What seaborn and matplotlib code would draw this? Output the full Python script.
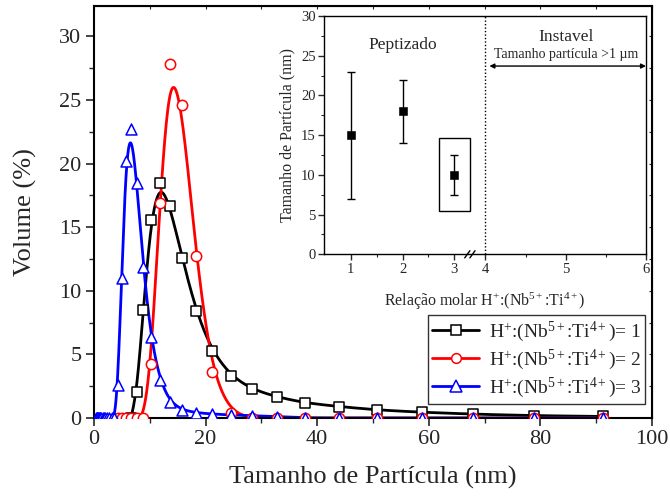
import numpy as np
import matplotlib
matplotlib.use("Agg")
import matplotlib.pyplot as plt
import matplotlib.patches as patches
from matplotlib.lines import Line2D
from matplotlib.ticker import MultipleLocator, FixedLocator
import seaborn as sns

# ---------------- data ----------------
size_nm = [0.41, 0.47, 0.55, 0.64, 0.74, 0.85, 0.99, 1.14, 1.32, 1.53, 1.77, 2.04,
           2.36, 2.74, 3.17, 3.66, 4.24, 4.96, 5.73, 6.63, 7.67, 8.84, 10.2, 11.8,
           13.6, 15.8, 18.3, 21.1, 24.5, 28.3, 32.8, 37.9, 43.9, 50.7, 58.7, 68.0,
           78.8, 91.2]

# ratio 1 (black squares) starts at 6.63 nm
vol_r1 = [0.0, 2.07, 8.5, 15.6, 18.5, 16.7, 12.6, 8.4, 5.3, 3.33, 2.26, 1.65,
          1.18, 0.9, 0.63, 0.45, 0.3, 0.18, 0.12]
# ratio 2 (red circles) starts at 4.24 nm
vol_r2 = [0.0, 0.0, 0.0, 0.0, 0.0, 0.0, 4.23, 16.9, 27.8, 24.6, 12.7, 3.65,
          0.42, 0.0, 0.0, 0.0, 0.0, 0.0, 0.0, 0.0, 0.0, 0.0]
# ratio 3 (blue triangles) starts at 0.41 nm
vol_r3 = [0.0] * 16 + [2.6, 11.0, 20.2, 22.7, 18.5, 11.9, 6.35, 3.0, 1.29, 0.63,
                       0.42, 0.31, 0.24, 0.18, 0.1, 0.0, 0.0, 0.0, 0.0, 0.0, 0.0, 0.0]

series_labels = [r'H$^{+}$:(Nb$^{5+}$:Ti$^{4+}$)= 1',
                 r'H$^{+}$:(Nb$^{5+}$:Ti$^{4+}$)= 2',
                 r'H$^{+}$:(Nb$^{5+}$:Ti$^{4+}$)= 3']

# inset
ratio = [1, 2, 3]
mean_size = [15, 18, 10]
size_low = [7, 14, 7.5]
size_high = [23, 22, 12.5]

# ---------------- style ----------------
sns.set_style("ticks")
plt.rcParams['font.family'] = ['Liberation Serif', 'DejaVu Serif']
plt.rcParams['mathtext.fontset'] = 'custom'
plt.rcParams['mathtext.rm'] = 'Liberation Serif'
plt.rcParams['mathtext.it'] = 'Liberation Serif:italic'
plt.rcParams['mathtext.bf'] = 'Liberation Serif:bold'


def bspline(x, y, n=40):
    x = np.asarray(x, float)
    y = np.asarray(y, float)
    px = np.concatenate([[x[0]] * 2, x, [x[-1]] * 2])
    py = np.concatenate([[y[0]] * 2, y, [y[-1]] * 2])
    t = np.linspace(0, 1, n)
    b0 = (1 - t) ** 3 / 6
    b1 = (3 * t ** 3 - 6 * t ** 2 + 4) / 6
    b2 = (-3 * t ** 3 + 3 * t ** 2 + 3 * t + 1) / 6
    b3 = t ** 3 / 6
    xs, ys = [], []
    for i in range(len(px) - 3):
        xs.append(b0 * px[i] + b1 * px[i + 1] + b2 * px[i + 2] + b3 * px[i + 3])
        ys.append(b0 * py[i] + b1 * py[i + 1] + b2 * py[i + 2] + b3 * py[i + 3])
    return np.concatenate(xs), np.concatenate(ys)


fig = plt.figure(figsize=(6.7, 4.97), dpi=100)
ax = fig.add_axes([0.1403, 0.159, 0.8328, 0.829])

series = [
    (size_nm[-len(vol_r1):], vol_r1, 'black', 's', 42),
    (size_nm[-len(vol_r2):], vol_r2, 'red', 'o', 55),
    (size_nm[-len(vol_r3):], vol_r3, 'blue', '^', 62),
]
handles = []
for (xs, ys, c, m, s), lab in zip(series, series_labels):
    cx, cy = bspline(xs, ys)
    sns.lineplot(x=cx, y=cy, sort=False, estimator=None, color=c, lw=2, ax=ax)
    sns.scatterplot(x=xs, y=ys, marker=m, s=s, color='white', edgecolor=c,
                    linewidth=1.1, ax=ax, zorder=3)
    handles.append(Line2D([], [], color=c, lw=2, marker=m, mfc='white', mec=c,
                          ms=7 if m != '^' else 8, mew=1.1))

ax.set_xlim(0, 100)
ax.set_ylim(0, 32.4)
ax.xaxis.set_major_locator(MultipleLocator(20))
ax.xaxis.set_minor_locator(MultipleLocator(10))
ax.yaxis.set_major_locator(MultipleLocator(5))
ax.yaxis.set_minor_locator(MultipleLocator(2.5))
ax.tick_params(axis='both', which='major', direction='out', length=6, width=1.2,
               labelsize=16, pad=3, top=False, right=False)
ax.tick_params(axis='both', which='minor', direction='out', length=3.5, width=1.0,
               top=False, right=False)
for sp in ax.spines.values():
    sp.set_linewidth(1.5)
    sp.set_color('black')
ax.set_xlabel('Tamanho de Partícula (nm)', fontsize=19, labelpad=12)
ax.set_ylabel('Volume (%)', fontsize=19, labelpad=16)

# mirrored tiny ticks on top/right
axt = ax.secondary_xaxis('top')
axt.xaxis.set_major_locator(MultipleLocator(10))
axt.tick_params(direction='in', length=2, width=0.8, labeltop=False)
axr = ax.secondary_yaxis('right')
axr.yaxis.set_major_locator(MultipleLocator(2.5))
axr.tick_params(direction='in', length=2, width=0.8, labelright=False)

leg = ax.legend(handles=handles, labels=series_labels, loc='lower right',
                bbox_to_anchor=(0.9875, 0.034), borderaxespad=0, fontsize=14,
                frameon=True, fancybox=False, handlelength=2.4, handletextpad=0.5,
                borderpad=0.2, labelspacing=0.2)
leg.get_frame().set_edgecolor('black')
leg.get_frame().set_linewidth(1.0)

# ---------------- inset ----------------
ax_in = fig.add_axes([0.4836, 0.4883, 0.4806, 0.4795])


def fwd(x):
    x = np.asarray(x, float)
    return np.where(x <= 3, x, np.where(x <= 4, 3 + (x - 3) * 0.6, 3.6 + (x - 4) * 1.553))


def inv(y):
    y = np.asarray(y, float)
    return np.where(y <= 3, y, np.where(y <= 3.6, 3 + (y - 3) / 0.6, 4 + (y - 3.6) / 1.553))


ax_in.set_xscale('function', functions=(fwd, inv))
ax_in.errorbar(ratio, mean_size,
               yerr=[np.array(mean_size) - np.array(size_low),
                     np.array(size_high) - np.array(mean_size)],
               fmt='none', ecolor='black', elinewidth=1, capsize=3, capthick=1)
sns.scatterplot(x=ratio, y=mean_size, marker='s', s=28, color='black',
                edgecolor='black', ax=ax_in, zorder=3)
ax_in.axvline(4, color='black', ls=(0, (1, 1.5)), lw=1)
ax_in.add_patch(patches.Rectangle((2.695, 5.45), 0.8, 9.25, fill=False,
                                  edgecolor='black', lw=1))
ax_in.annotate('', xy=(6.0, 23.7), xytext=(4.05, 23.7),
               arrowprops=dict(arrowstyle='<|-|>', color='black', lw=1,
                               mutation_scale=7, shrinkA=0, shrinkB=0))
ax_in.text(2.0, 26.3, 'Peptizado', fontsize=12.5, ha='center', va='center')
ax_in.text(5.0, 27.4, 'Instavel', fontsize=12.5, ha='center', va='center')
ax_in.text(5.0, 25.2, 'Tamanho partícula >1 µm', fontsize=10, ha='center', va='center')

ax_in.set_xlim(0.48, 6.0)
ax_in.set_ylim(0, 30)
ax_in.xaxis.set_major_locator(FixedLocator([1, 2, 3, 4, 5, 6]))
ax_in.xaxis.set_minor_locator(FixedLocator([1.5, 2.5, 4.5, 5.5]))
ax_in.yaxis.set_major_locator(MultipleLocator(5))
ax_in.yaxis.set_minor_locator(MultipleLocator(2.5))
ax_in.set_xticklabels(['1', '2', '3', '4', '5', '6'])
ax_in.tick_params(axis='both', which='major', direction='out', length=4, width=1,
                  labelsize=10.5, pad=2)
ax_in.tick_params(axis='both', which='minor', direction='out', length=2.5, width=0.8)
for sp in ax_in.spines.values():
    sp.set_linewidth(1.0)
    sp.set_color('black')
ax_in.set_xlabel(r'Relação molar H$^{+}$:(Nb$^{5+}$:Ti$^{4+}$)', fontsize=11.5, labelpad=11)
ax_in.set_ylabel('Tamanho de Partícula (nm)', fontsize=11.5, labelpad=4)

# axis break marks
fb = 0.437
for dx in (0.0, 0.016):
    ax_in.plot([fb + dx, fb + dx + 0.016], [-0.015, 0.015], color='black', lw=1,
               transform=ax_in.transAxes, clip_on=False)

fig.savefig('out.png', dpi=100)
